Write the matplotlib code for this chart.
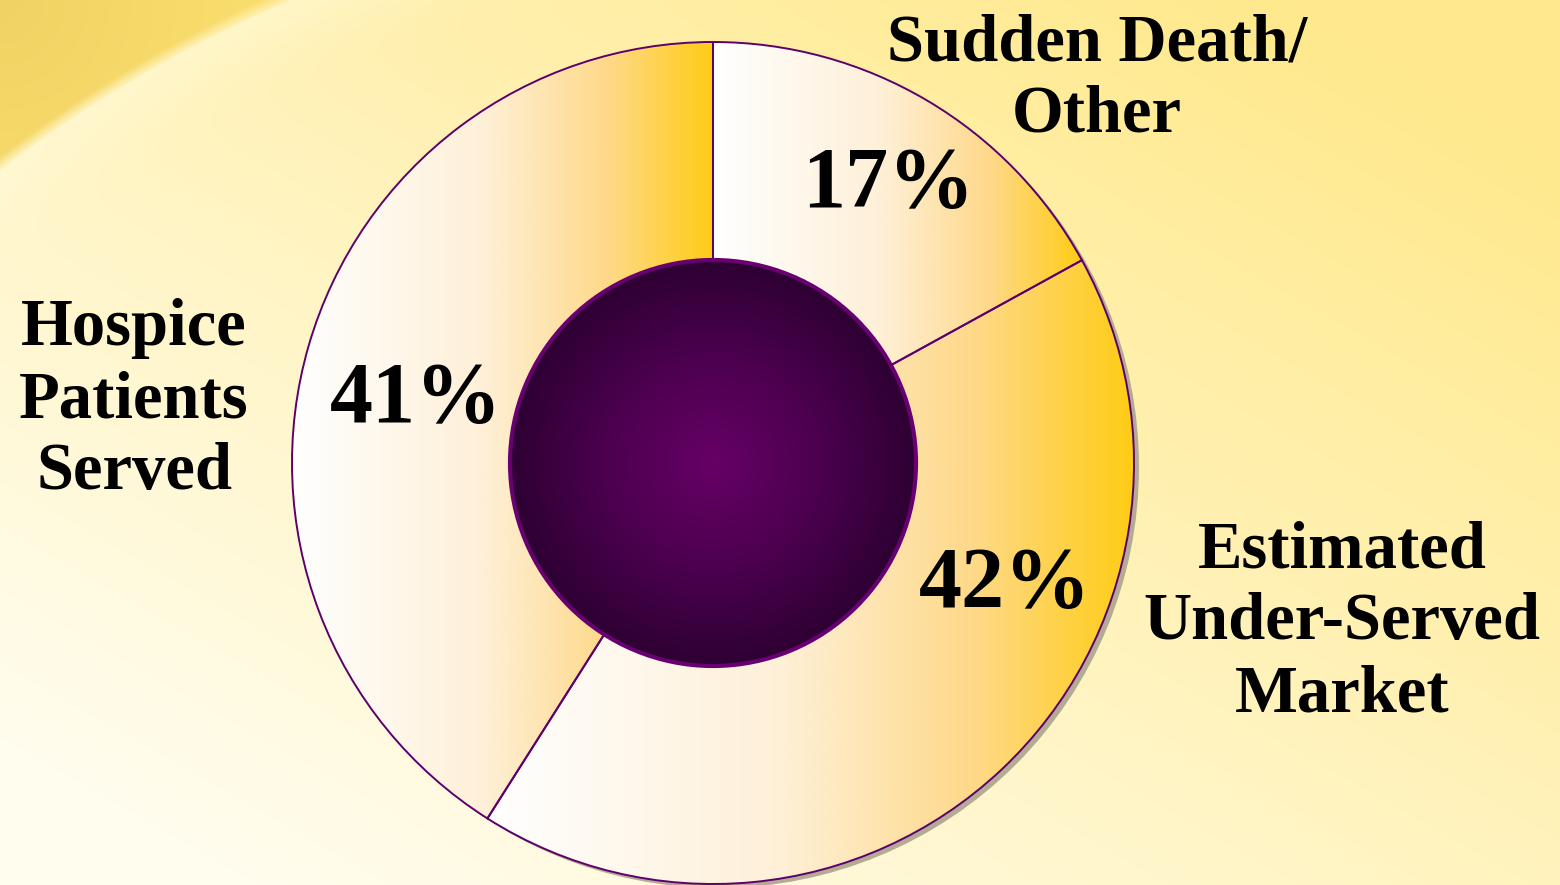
import numpy as np
import matplotlib
matplotlib.use("Agg")
import matplotlib.pyplot as plt
from matplotlib.colors import LinearSegmentedColormap
from matplotlib.patches import Circle

# Données du graphique
categories = ["Sudden Death/\nOther", "Estimated\nUnder-Served\nMarket", "Hospice\nPatients\nServed"]
values = [17, 42, 41]
pct_labels = ["17%", "42%", "41%"]

W, H = 1560, 885
cx, cy = 713, H - 463
R_out = 421
R_in = 203

# positions (x centre, première ligne de base en pixels image)
label_pos = [(1097, 60), (1342, 567), (134, 345)]
pct_pos = [(888, 207), (1005, 607), (416, 422)]
line_step = 72

fig = plt.figure(figsize=(15.6, 8.85), dpi=100)
ax = fig.add_axes([0, 0, 1, 1])

# Fond : dégradé jaune pâle + bande dorée en haut à gauche
yy, xx = np.mgrid[0:H, 0:W].astype(float)
t = np.clip(xx / W * 0.6 + (1 - yy / H) * 0.6 - 0.1, 0, 1)[..., None]
light = np.array([255, 253, 238]) / 255
yel = np.array([255, 233, 140]) / 255
bg = light * (1 - t) + yel * t
left = np.clip((900 - xx) / 200, 0, 1)[..., None]
d = np.sqrt((xx - 800) ** 2 + (yy - 1200) ** 2)
r0 = 1304
glow = (np.exp(-((r0 - d) / 45) ** 2) * (d < r0))[..., None] * 0.45 * left
bg = bg * (1 - glow) + np.array([255, 250, 220]) / 255 * glow
s = np.clip((d - r0) / 12, 0, 1)[..., None] * left
corner = np.clip(1 - np.sqrt(xx ** 2 + yy ** 2) / 350, 0, 1)[..., None]
swoosh = np.array([253, 226, 112]) / 255 * (1 - corner) + np.array([240, 210, 100]) / 255 * corner
bg = bg * (1 - s) + swoosh * s
ax.imshow(bg, extent=(0, W, 0, H), origin="upper", aspect="auto", zorder=0)

# Ombre derrière l'anneau
ax.add_patch(Circle((cx + 5, cy - 4), R_out, facecolor="#b3ab93", edgecolor="none", zorder=1))

wedges, _ = ax.pie(values, startangle=90, counterclock=False, radius=R_out, center=(cx, cy),
                   wedgeprops=dict(width=R_out - R_in, facecolor="none", edgecolor="#5c006e",
                                   linewidth=1.4, zorder=3))

gold = LinearSegmentedColormap.from_list(
    "gold", [(0, "#ffffff"), (0.45, "#fef0d8"), (0.75, "#fed98a"), (1.0, "#ffcc14")])

# Dégradé horizontal dans chaque part
grad = np.linspace(0, 1, 256).reshape(1, -1)
for w in wedges:
    th = np.radians(np.linspace(w.theta1, w.theta2, 400))
    xs = np.concatenate([cx + R_out * np.cos(th), cx + R_in * np.cos(th)])
    im = ax.imshow(grad, cmap=gold, extent=(xs.min(), xs.max(), cy - R_out, cy + R_out),
                   aspect="auto", zorder=2)
    im.set_clip_path(w)

# Cercle central violet
gy, gx = np.mgrid[-1:1:400j, -1:1:400j]
rr = np.clip(np.sqrt(gx ** 2 + gy ** 2), 0, 1)
purple = LinearSegmentedColormap.from_list("purple", ["#660066", "#4d0050", "#2e0033"])
center = Circle((cx, cy), R_in, facecolor="none", edgecolor="#680072", linewidth=3, zorder=5)
ax.add_patch(center)
im = ax.imshow(rr, cmap=purple, extent=(cx - R_in, cx + R_in, cy - R_in, cy + R_in),
               aspect="auto", zorder=4)
im.set_clip_path(center)

# Textes
font = dict(family="Liberation Serif", fontweight="bold", color="black")
for lab, (x, y0) in zip(categories, label_pos):
    for k, line in enumerate(lab.split("\n")):
        ax.text(x, H - (y0 + k * line_step), line, ha="center", va="baseline",
                fontsize=48, zorder=6, **font)
for p, (x, y0) in zip(pct_labels, pct_pos):
    ax.text(x, H - y0, p, ha="center", va="baseline", fontsize=62, zorder=6, **font)

ax.set_xlim(0, W)
ax.set_ylim(0, H)
ax.set_aspect("equal")
ax.axis("off")
plt.savefig("out.png", dpi=100)
